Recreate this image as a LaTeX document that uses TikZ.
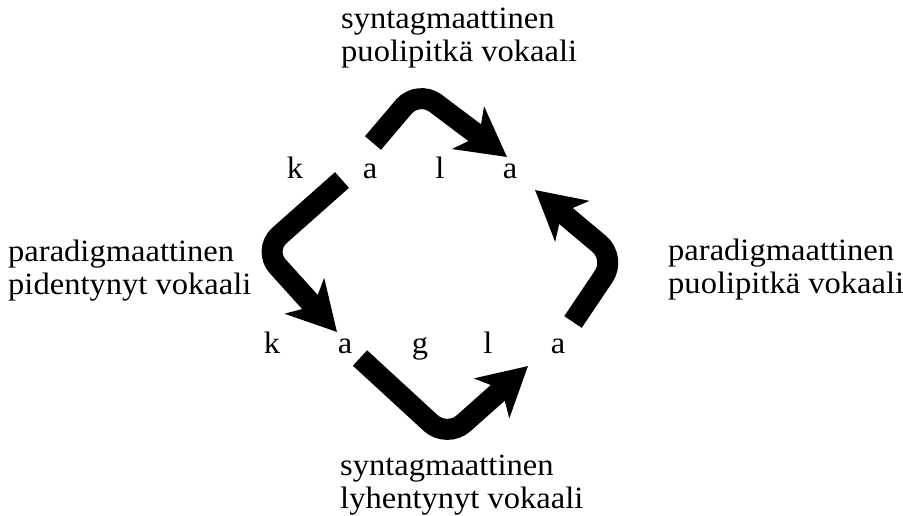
\documentclass[tikz,border=0pt]{standalone}
\usepackage{fontspec}
\setmainfont{Liberation Serif}[FakeStretch=1.05]
\usetikzlibrary{arrows.meta}

\begin{document}
\begin{tikzpicture}[x=1pt,y=-1pt,
    every node/.style={inner sep=0pt,font=\fontsize{31}{33}\selectfont},
    letter/.style={anchor=base},
    gloss/.style={anchor=base west,align=left},
    bow/.style={line width=21pt,rounded corners=22pt,
      -{Stealth[length=48pt,width=52pt,inset=13pt]}}]
  \useasboundingbox (0,0) rectangle (903,515);
  % upper row: kala
  \node[letter] (uk) at (295,178) {k};
  \node[letter] (ua) at (370,178) {a};
  \node[letter] (ul) at (440,178) {l};
  \node[letter] (ub) at (510,178) {a};
  % lower row: kaagla
  \node[letter] (lk) at (272,353) {k};
  \node[letter] (la) at (345,353) {a};
  \node[letter] (lg) at (420,353) {g};
  \node[letter] (ll) at (488,353) {l};
  \node[letter] (lb) at (558,353) {a};
  % glosses (base = last line)
  \node[gloss] (top) at (341,61) {syntagmaattinen\\puolipitkä vokaali};
  \node[gloss] (left) at (8,294) {paradigmaattinen\\pidentynyt vokaali};
  \node[gloss] (right) at (668,293) {paradigmaattinen\\puolipitkä vokaali};
  \node[gloss] (bottom) at (340,508) {syntagmaattinen\\lyhentynyt vokaali};
  % bends
  \coordinate (tb) at (418,90);
  \coordinate (lbend) at (263,250);
  \coordinate (bb) at (447,438);
  \coordinate (rb) at (616,258);
  \draw[bow] ([shift={(3,-35)}]ua.base) -- (tb) -- ([shift={(-3,-21)}]ub.base);
  \draw[bow] ([shift={(-28,2)}]ua.base) -- (lbend) -- ([shift={(-8,-21)}]la.base);
  \draw[bow] ([shift={(15,5)}]la.base) -- (bb) -- ([shift={(-30,13)}]lb.base);
  \draw[bow] ([shift={(15,-31)}]lb.base) -- (rb) -- ([shift={(25,12)}]ub.base);
\end{tikzpicture}
\end{document}
